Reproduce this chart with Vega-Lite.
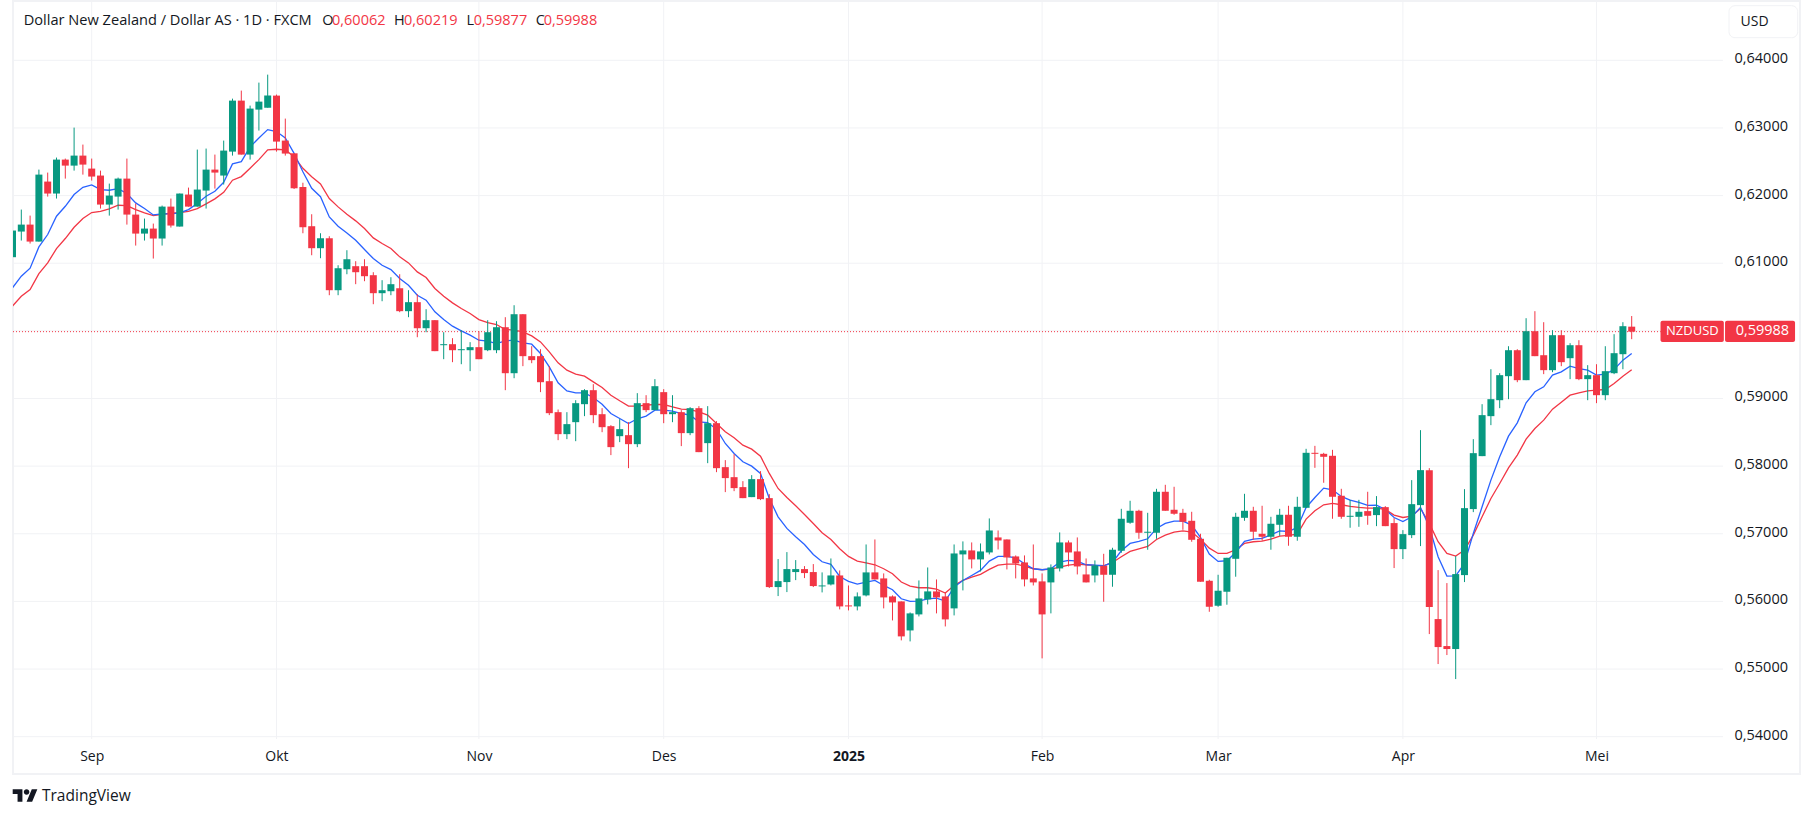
{
"$schema":"https://vega.github.io/schema/vega-lite/v6.json",
"description":"NZDUSD daily candles with two moving averages",
"width":1787,"height":773,"autosize":"none",
"padding":{"left":13,"top":1,"right":13,"bottom":44},
"background":"#ffffff",
"config":{"font":"Open Sans","view":{"stroke":"#f1f2f5","strokeWidth":2}},
"resolve":{"axis":{"x":"independent","y":"independent"}},
"datasets":{
"months":[{"bar":10,"month":"Sep"},{"bar":31,"month":"Okt"},{"bar":54,"month":"Nov"},{"bar":75,"month":"Des"},{"bar":96,"month":"2025"},{"bar":118,"month":"Feb"},{"bar":138,"month":"Mar"},{"bar":159,"month":"Apr"},{"bar":181,"month":"Mei"}],
"levels":[{"price":0.54},{"price":0.55},{"price":0.56},{"price":0.57},{"price":0.58},{"price":0.59},{"price":0.6},{"price":0.61},{"price":0.62},{"price":0.63},{"price":0.64}],
"note":[{}],
"logo":[{"bar":4.352,"price":0.53124,"label":"TradingView"}],
"candles":[
{"bar":1,"open":0.61089,"high":0.61483,"low":0.61089,"close":0.61483,"fast":0.60636,"slow":0.60365},
{"bar":2,"open":0.61468,"high":0.61793,"low":0.61335,"close":0.61571,"fast":0.60808,"slow":0.60512},
{"bar":3,"open":0.61571,"high":0.61704,"low":0.61291,"close":0.6132,"fast":0.60926,"slow":0.60611},
{"bar":4,"open":0.6132,"high":0.62384,"low":0.6132,"close":0.6231,"fast":0.61241,"slow":0.60847},
{"bar":5,"open":0.62207,"high":0.6234,"low":0.61985,"close":0.6203,"fast":0.61424,"slow":0.61005},
{"bar":6,"open":0.6203,"high":0.62562,"low":0.61956,"close":0.62532,"fast":0.61695,"slow":0.61217},
{"bar":7,"open":0.62532,"high":0.62547,"low":0.62251,"close":0.62443,"fast":0.61842,"slow":0.61365},
{"bar":8,"open":0.62443,"high":0.63005,"low":0.62369,"close":0.62591,"fast":0.62015,"slow":0.61532},
{"bar":9,"open":0.62591,"high":0.62754,"low":0.6231,"close":0.62458,"fast":0.62123,"slow":0.6166},
{"bar":10,"open":0.62399,"high":0.62547,"low":0.62222,"close":0.62281,"fast":0.62158,"slow":0.61749},
{"bar":11,"open":0.62296,"high":0.62369,"low":0.61808,"close":0.61867,"fast":0.62089,"slow":0.61768},
{"bar":12,"open":0.61867,"high":0.62177,"low":0.61704,"close":0.62,"fast":0.62079,"slow":0.61803},
{"bar":13,"open":0.61985,"high":0.62266,"low":0.61793,"close":0.62251,"fast":0.62103,"slow":0.61857},
{"bar":14,"open":0.62251,"high":0.62547,"low":0.61571,"close":0.61719,"fast":0.6203,"slow":0.61852},
{"bar":15,"open":0.61719,"high":0.61882,"low":0.61261,"close":0.61438,"fast":0.61892,"slow":0.61793},
{"bar":16,"open":0.61438,"high":0.6166,"low":0.61335,"close":0.61512,"fast":0.61808,"slow":0.61744},
{"bar":17,"open":0.61512,"high":0.61586,"low":0.61069,"close":0.61365,"fast":0.61714,"slow":0.61704},
{"bar":18,"open":0.61365,"high":0.61852,"low":0.61261,"close":0.61837,"fast":0.61729,"slow":0.61724},
{"bar":19,"open":0.61837,"high":0.61956,"low":0.61527,"close":0.61557,"fast":0.61729,"slow":0.61739},
{"bar":20,"open":0.61542,"high":0.6203,"low":0.61542,"close":0.6203,"fast":0.61744,"slow":0.61749},
{"bar":21,"open":0.62015,"high":0.62118,"low":0.61837,"close":0.61837,"fast":0.61793,"slow":0.61768},
{"bar":22,"open":0.61837,"high":0.6268,"low":0.61837,"close":0.62089,"fast":0.61882,"slow":0.61808},
{"bar":23,"open":0.62074,"high":0.62695,"low":0.61808,"close":0.62384,"fast":0.6199,"slow":0.61877},
{"bar":24,"open":0.62384,"high":0.62606,"low":0.62103,"close":0.6234,"fast":0.62064,"slow":0.61951},
{"bar":25,"open":0.62296,"high":0.62813,"low":0.62163,"close":0.62665,"fast":0.62197,"slow":0.62049},
{"bar":26,"open":0.6265,"high":0.63433,"low":0.62591,"close":0.63404,"fast":0.62468,"slow":0.62227},
{"bar":27,"open":0.63404,"high":0.63552,"low":0.62606,"close":0.62606,"fast":0.62502,"slow":0.62281},
{"bar":28,"open":0.62606,"high":0.6333,"low":0.62532,"close":0.63286,"fast":0.62719,"slow":0.62404},
{"bar":29,"open":0.63271,"high":0.6367,"low":0.62961,"close":0.63389,"fast":0.62852,"slow":0.62532},
{"bar":30,"open":0.633,"high":0.63788,"low":0.633,"close":0.63478,"fast":0.62975,"slow":0.62675},
{"bar":31,"open":0.63478,"high":0.63493,"low":0.6265,"close":0.62798,"fast":0.62946,"slow":0.62685},
{"bar":32,"open":0.62813,"high":0.63138,"low":0.62591,"close":0.62621,"fast":0.62852,"slow":0.62675},
{"bar":33,"open":0.62625,"high":0.62625,"low":0.62097,"close":0.62108,"fast":0.62625,"slow":0.62575},
{"bar":34,"open":0.62127,"high":0.6219,"low":0.61443,"close":0.61532,"fast":0.62353,"slow":0.62403},
{"bar":35,"open":0.61547,"high":0.61724,"low":0.61118,"close":0.61222,"fast":0.62108,"slow":0.62279},
{"bar":36,"open":0.61222,"high":0.61443,"low":0.61074,"close":0.61369,"fast":0.61983,"slow":0.62171},
{"bar":37,"open":0.61369,"high":0.61399,"low":0.60527,"close":0.60601,"fast":0.61685,"slow":0.61956},
{"bar":38,"open":0.60601,"high":0.6097,"low":0.60527,"close":0.60926,"fast":0.61547,"slow":0.61833},
{"bar":39,"open":0.60911,"high":0.61192,"low":0.60837,"close":0.61059,"fast":0.61448,"slow":0.61724},
{"bar":40,"open":0.60956,"high":0.6103,"low":0.6069,"close":0.60867,"fast":0.6134,"slow":0.61626},
{"bar":41,"open":0.60956,"high":0.61059,"low":0.60734,"close":0.60808,"fast":0.61202,"slow":0.61512},
{"bar":42,"open":0.60823,"high":0.60867,"low":0.60394,"close":0.60557,"fast":0.61069,"slow":0.61374},
{"bar":43,"open":0.60557,"high":0.60749,"low":0.60438,"close":0.60601,"fast":0.6097,"slow":0.61291},
{"bar":44,"open":0.60586,"high":0.60793,"low":0.60527,"close":0.6069,"fast":0.60906,"slow":0.61217},
{"bar":45,"open":0.6063,"high":0.60837,"low":0.60276,"close":0.60291,"fast":0.60773,"slow":0.61094},
{"bar":46,"open":0.60291,"high":0.60601,"low":0.60202,"close":0.60424,"fast":0.60675,"slow":0.61005},
{"bar":47,"open":0.60424,"high":0.60542,"low":0.59906,"close":0.60039,"fast":0.60527,"slow":0.60872},
{"bar":48,"open":0.60039,"high":0.6032,"low":0.5998,"close":0.60158,"fast":0.60453,"slow":0.60788},
{"bar":49,"open":0.60158,"high":0.60158,"low":0.597,"close":0.597,"fast":0.60281,"slow":0.60626},
{"bar":50,"open":0.59788,"high":0.5998,"low":0.59581,"close":0.59803,"fast":0.60167,"slow":0.60512},
{"bar":51,"open":0.59803,"high":0.59892,"low":0.59537,"close":0.59714,"fast":0.60069,"slow":0.60414},
{"bar":52,"open":0.59714,"high":0.6001,"low":0.59507,"close":0.59729,"fast":0.6,"slow":0.6033},
{"bar":53,"open":0.59714,"high":0.59833,"low":0.59404,"close":0.59759,"fast":0.59936,"slow":0.60256},
{"bar":54,"open":0.59759,"high":0.59995,"low":0.59581,"close":0.59581,"fast":0.59862,"slow":0.60167},
{"bar":55,"open":0.59714,"high":0.60158,"low":0.597,"close":0.5998,"fast":0.59847,"slow":0.60123},
{"bar":56,"open":0.59714,"high":0.60143,"low":0.5967,"close":0.60054,"fast":0.59813,"slow":0.60094},
{"bar":57,"open":0.60054,"high":0.60202,"low":0.59123,"close":0.59374,"fast":0.59852,"slow":0.6002},
{"bar":58,"open":0.59374,"high":0.60379,"low":0.593,"close":0.60246,"fast":0.59862,"slow":0.6001},
{"bar":59,"open":0.60246,"high":0.60246,"low":0.59478,"close":0.59626,"fast":0.59823,"slow":0.59985},
{"bar":60,"open":0.59626,"high":0.59773,"low":0.59522,"close":0.59567,"fast":0.59803,"slow":0.59926},
{"bar":61,"open":0.59626,"high":0.59729,"low":0.59094,"close":0.59241,"fast":0.59665,"slow":0.59837},
{"bar":62,"open":0.59256,"high":0.59478,"low":0.58754,"close":0.58783,"fast":0.59468,"slow":0.5969},
{"bar":63,"open":0.58798,"high":0.58837,"low":0.58384,"close":0.58473,"fast":0.59232,"slow":0.59527},
{"bar":64,"open":0.58473,"high":0.58798,"low":0.58399,"close":0.58621,"fast":0.59113,"slow":0.59419},
{"bar":65,"open":0.5865,"high":0.58975,"low":0.58369,"close":0.58931,"fast":0.59084,"slow":0.5936},
{"bar":66,"open":0.58916,"high":0.59138,"low":0.58739,"close":0.59123,"fast":0.59084,"slow":0.5933},
{"bar":67,"open":0.59123,"high":0.59212,"low":0.58635,"close":0.58754,"fast":0.59015,"slow":0.59246},
{"bar":68,"open":0.58768,"high":0.58857,"low":0.58502,"close":0.58576,"fast":0.58916,"slow":0.59163},
{"bar":69,"open":0.58591,"high":0.58606,"low":0.58163,"close":0.58281,"fast":0.58778,"slow":0.59049},
{"bar":70,"open":0.58443,"high":0.58695,"low":0.58355,"close":0.58547,"fast":0.58704,"slow":0.58966},
{"bar":71,"open":0.58458,"high":0.5865,"low":0.5797,"close":0.58325,"fast":0.58631,"slow":0.58887},
{"bar":72,"open":0.58325,"high":0.59079,"low":0.58281,"close":0.58931,"fast":0.587,"slow":0.58887},
{"bar":73,"open":0.58931,"high":0.59049,"low":0.58798,"close":0.58828,"fast":0.58739,"slow":0.58901},
{"bar":74,"open":0.58828,"high":0.59286,"low":0.58828,"close":0.59182,"fast":0.58828,"slow":0.58911},
{"bar":75,"open":0.59094,"high":0.59138,"low":0.58635,"close":0.58768,"fast":0.58828,"slow":0.58911},
{"bar":76,"open":0.58768,"high":0.59049,"low":0.5865,"close":0.58798,"fast":0.58813,"slow":0.58877},
{"bar":77,"open":0.58798,"high":0.58828,"low":0.58296,"close":0.58488,"fast":0.58778,"slow":0.58842},
{"bar":78,"open":0.58488,"high":0.58872,"low":0.58458,"close":0.58857,"fast":0.58754,"slow":0.58837},
{"bar":79,"open":0.58857,"high":0.58887,"low":0.58207,"close":0.58207,"fast":0.58655,"slow":0.58803},
{"bar":80,"open":0.5834,"high":0.58887,"low":0.58044,"close":0.58635,"fast":0.58645,"slow":0.58754},
{"bar":81,"open":0.58635,"high":0.58665,"low":0.57911,"close":0.5797,"fast":0.58547,"slow":0.58631},
{"bar":82,"open":0.57985,"high":0.58089,"low":0.57616,"close":0.57823,"fast":0.58335,"slow":0.58507},
{"bar":83,"open":0.57837,"high":0.58177,"low":0.5763,"close":0.57675,"fast":0.58187,"slow":0.58419},
{"bar":84,"open":0.5769,"high":0.57778,"low":0.57527,"close":0.57527,"fast":0.58064,"slow":0.5831},
{"bar":85,"open":0.57542,"high":0.57867,"low":0.57542,"close":0.57808,"fast":0.58,"slow":0.58251},
{"bar":86,"open":0.57808,"high":0.57926,"low":0.57498,"close":0.57512,"fast":0.57892,"slow":0.58148},
{"bar":87,"open":0.57527,"high":0.57586,"low":0.56198,"close":0.56212,"fast":0.57522,"slow":0.57892},
{"bar":88,"open":0.56212,"high":0.56626,"low":0.56079,"close":0.563,"fast":0.57251,"slow":0.5767},
{"bar":89,"open":0.56286,"high":0.56729,"low":0.56138,"close":0.56478,"fast":0.57079,"slow":0.57537},
{"bar":90,"open":0.56434,"high":0.56611,"low":0.56315,"close":0.56478,"fast":0.56956,"slow":0.57414},
{"bar":91,"open":0.56478,"high":0.56522,"low":0.56345,"close":0.56419,"fast":0.56842,"slow":0.57286},
{"bar":92,"open":0.56434,"high":0.56552,"low":0.56212,"close":0.56227,"fast":0.56695,"slow":0.57153},
{"bar":93,"open":0.56222,"high":0.56429,"low":0.56133,"close":0.56236,"fast":0.56586,"slow":0.57015},
{"bar":94,"open":0.56251,"high":0.56635,"low":0.56236,"close":0.56384,"fast":0.56547,"slow":0.56916},
{"bar":95,"open":0.56384,"high":0.56458,"low":0.55882,"close":0.55926,"fast":0.56369,"slow":0.56778},
{"bar":96,"open":0.55941,"high":0.56236,"low":0.55867,"close":0.55926,"fast":0.56296,"slow":0.56665},
{"bar":97,"open":0.55926,"high":0.56133,"low":0.55867,"close":0.56074,"fast":0.56256,"slow":0.56596},
{"bar":98,"open":0.56089,"high":0.56842,"low":0.56074,"close":0.56429,"fast":0.56286,"slow":0.56571},
{"bar":99,"open":0.56429,"high":0.56916,"low":0.56325,"close":0.56325,"fast":0.5631,"slow":0.56542},
{"bar":100,"open":0.5634,"high":0.56414,"low":0.55897,"close":0.56059,"fast":0.56236,"slow":0.56483},
{"bar":101,"open":0.56074,"high":0.56089,"low":0.55719,"close":0.55985,"fast":0.56172,"slow":0.56409},
{"bar":102,"open":0.56,"high":0.56,"low":0.55424,"close":0.55483,"fast":0.56039,"slow":0.56286},
{"bar":103,"open":0.55571,"high":0.55837,"low":0.55409,"close":0.55823,"fast":0.56,"slow":0.56227},
{"bar":104,"open":0.55808,"high":0.5631,"low":0.55778,"close":0.56044,"fast":0.56005,"slow":0.56202},
{"bar":105,"open":0.5603,"high":0.56502,"low":0.55956,"close":0.56148,"fast":0.56039,"slow":0.56202},
{"bar":106,"open":0.56148,"high":0.56325,"low":0.55823,"close":0.56059,"fast":0.56049,"slow":0.56182},
{"bar":107,"open":0.56074,"high":0.56133,"low":0.5563,"close":0.55734,"fast":0.56005,"slow":0.56123},
{"bar":108,"open":0.55897,"high":0.56842,"low":0.55793,"close":0.56709,"fast":0.56212,"slow":0.56236},
{"bar":109,"open":0.56695,"high":0.56887,"low":0.56163,"close":0.56754,"fast":0.5631,"slow":0.5631},
{"bar":110,"open":0.56754,"high":0.56872,"low":0.56488,"close":0.56621,"fast":0.56384,"slow":0.5636},
{"bar":111,"open":0.56621,"high":0.56857,"low":0.56443,"close":0.56739,"fast":0.56458,"slow":0.56399},
{"bar":112,"open":0.56724,"high":0.57227,"low":0.56695,"close":0.57049,"fast":0.56596,"slow":0.56473},
{"bar":113,"open":0.56946,"high":0.57049,"low":0.56768,"close":0.56901,"fast":0.56665,"slow":0.56537},
{"bar":114,"open":0.56916,"high":0.56916,"low":0.56473,"close":0.5665,"fast":0.56665,"slow":0.56552},
{"bar":115,"open":0.56665,"high":0.5668,"low":0.5634,"close":0.56562,"fast":0.56645,"slow":0.56552},
{"bar":116,"open":0.56576,"high":0.5668,"low":0.56222,"close":0.56325,"fast":0.56557,"slow":0.56522},
{"bar":117,"open":0.5634,"high":0.56842,"low":0.56236,"close":0.56281,"fast":0.56483,"slow":0.56483},
{"bar":118,"open":0.56296,"high":0.56414,"low":0.55158,"close":0.55808,"fast":0.56468,"slow":0.56468},
{"bar":119,"open":0.56281,"high":0.56547,"low":0.55823,"close":0.56502,"fast":0.56483,"slow":0.56478},
{"bar":120,"open":0.56488,"high":0.5702,"low":0.56443,"close":0.56872,"fast":0.56581,"slow":0.56507},
{"bar":121,"open":0.56872,"high":0.56901,"low":0.56517,"close":0.56724,"fast":0.56606,"slow":0.56537},
{"bar":122,"open":0.56739,"high":0.56946,"low":0.56399,"close":0.56517,"fast":0.56596,"slow":0.56552},
{"bar":123,"open":0.56399,"high":0.56635,"low":0.56281,"close":0.56281,"fast":0.56542,"slow":0.56542},
{"bar":124,"open":0.56384,"high":0.56606,"low":0.56281,"close":0.56532,"fast":0.56537,"slow":0.56532},
{"bar":125,"open":0.56527,"high":0.56704,"low":0.55995,"close":0.56394,"fast":0.56527,"slow":0.56527},
{"bar":126,"open":0.56394,"high":0.56793,"low":0.56217,"close":0.56764,"fast":0.56576,"slow":0.56576},
{"bar":127,"open":0.56749,"high":0.57369,"low":0.56719,"close":0.57222,"fast":0.56749,"slow":0.5666},
{"bar":128,"open":0.57163,"high":0.57488,"low":0.57148,"close":0.5734,"fast":0.56857,"slow":0.56739},
{"bar":129,"open":0.5734,"high":0.57355,"low":0.56926,"close":0.57015,"fast":0.56887,"slow":0.56778},
{"bar":130,"open":0.57015,"high":0.5731,"low":0.56764,"close":0.5703,"fast":0.56926,"slow":0.56813},
{"bar":131,"open":0.57015,"high":0.57665,"low":0.56926,"close":0.57621,"fast":0.57079,"slow":0.56916},
{"bar":132,"open":0.57621,"high":0.57724,"low":0.5734,"close":0.5734,"fast":0.57153,"slow":0.5698},
{"bar":133,"open":0.57355,"high":0.57695,"low":0.57281,"close":0.57296,"fast":0.57187,"slow":0.57025},
{"bar":134,"open":0.5731,"high":0.57369,"low":0.57059,"close":0.57177,"fast":0.57187,"slow":0.57044},
{"bar":135,"open":0.57192,"high":0.57325,"low":0.56882,"close":0.56911,"fast":0.57128,"slow":0.57025},
{"bar":136,"open":0.56926,"high":0.57,"low":0.56291,"close":0.56291,"fast":0.56946,"slow":0.56921},
{"bar":137,"open":0.56305,"high":0.5632,"low":0.55847,"close":0.55921,"fast":0.567,"slow":0.56788},
{"bar":138,"open":0.55936,"high":0.56394,"low":0.55921,"close":0.56158,"fast":0.56591,"slow":0.56709},
{"bar":139,"open":0.56143,"high":0.56645,"low":0.55951,"close":0.56645,"fast":0.56601,"slow":0.56709},
{"bar":140,"open":0.5663,"high":0.5731,"low":0.56365,"close":0.57251,"fast":0.56724,"slow":0.56764},
{"bar":141,"open":0.57236,"high":0.57591,"low":0.57192,"close":0.5734,"fast":0.56887,"slow":0.56857},
{"bar":142,"open":0.5734,"high":0.57399,"low":0.56911,"close":0.5703,"fast":0.56921,"slow":0.56882},
{"bar":143,"open":0.57,"high":0.57414,"low":0.56897,"close":0.56956,"fast":0.56931,"slow":0.56892},
{"bar":144,"open":0.56956,"high":0.57251,"low":0.56764,"close":0.57148,"fast":0.56985,"slow":0.56921},
{"bar":145,"open":0.57133,"high":0.57369,"low":0.5697,"close":0.57281,"fast":0.57044,"slow":0.56966},
{"bar":146,"open":0.57281,"high":0.57414,"low":0.56823,"close":0.56956,"fast":0.57034,"slow":0.56975},
{"bar":147,"open":0.56956,"high":0.57547,"low":0.56897,"close":0.57399,"fast":0.57094,"slow":0.56995},
{"bar":148,"open":0.57384,"high":0.58256,"low":0.57384,"close":0.58197,"fast":0.57389,"slow":0.57217},
{"bar":149,"open":0.58197,"high":0.583,"low":0.57975,"close":0.58182,"fast":0.57537,"slow":0.5734},
{"bar":150,"open":0.58182,"high":0.58197,"low":0.57754,"close":0.58138,"fast":0.57675,"slow":0.57429},
{"bar":151,"open":0.58153,"high":0.58241,"low":0.57222,"close":0.57547,"fast":0.5765,"slow":0.57448},
{"bar":152,"open":0.57562,"high":0.57665,"low":0.57222,"close":0.57251,"fast":0.57552,"slow":0.57429},
{"bar":153,"open":0.57251,"high":0.57502,"low":0.57089,"close":0.57266,"fast":0.57498,"slow":0.57404},
{"bar":154,"open":0.57251,"high":0.57502,"low":0.57103,"close":0.57325,"fast":0.57463,"slow":0.57389},
{"bar":155,"open":0.57335,"high":0.57621,"low":0.57133,"close":0.57266,"fast":0.57419,"slow":0.57379},
{"bar":156,"open":0.57276,"high":0.57557,"low":0.57113,"close":0.57394,"fast":0.57424,"slow":0.57379},
{"bar":157,"open":0.57394,"high":0.57409,"low":0.57113,"close":0.57113,"fast":0.5736,"slow":0.5736},
{"bar":158,"open":0.57158,"high":0.57232,"low":0.56493,"close":0.56773,"fast":0.57241,"slow":0.57276},
{"bar":159,"open":0.56773,"high":0.57054,"low":0.56626,"close":0.56995,"fast":0.57182,"slow":0.57241},
{"bar":160,"open":0.5698,"high":0.57793,"low":0.56936,"close":0.57438,"fast":0.57251,"slow":0.57261},
{"bar":161,"open":0.57424,"high":0.58532,"low":0.56818,"close":0.57941,"fast":0.57389,"slow":0.57374},
{"bar":162,"open":0.57941,"high":0.5797,"low":0.55517,"close":0.55916,"fast":0.57103,"slow":0.57153},
{"bar":163,"open":0.55739,"high":0.56463,"low":0.55074,"close":0.55325,"fast":0.5666,"slow":0.56882},
{"bar":164,"open":0.5534,"high":0.56271,"low":0.55207,"close":0.55296,"fast":0.56374,"slow":0.56709},
{"bar":165,"open":0.55296,"high":0.5667,"low":0.54852,"close":0.56404,"fast":0.56379,"slow":0.5667},
{"bar":166,"open":0.56389,"high":0.5766,"low":0.56286,"close":0.57379,"fast":0.56562,"slow":0.56759},
{"bar":167,"open":0.57365,"high":0.58399,"low":0.5732,"close":0.58192,"fast":0.57005,"slow":0.5698},
{"bar":168,"open":0.58148,"high":0.58916,"low":0.58148,"close":0.58754,"fast":0.57399,"slow":0.57251},
{"bar":169,"open":0.58739,"high":0.59433,"low":0.58606,"close":0.5899,"fast":0.57793,"slow":0.57522},
{"bar":170,"open":0.58975,"high":0.59374,"low":0.58857,"close":0.59345,"fast":0.58138,"slow":0.57744},
{"bar":171,"open":0.5933,"high":0.59773,"low":0.5899,"close":0.59714,"fast":0.58443,"slow":0.57975},
{"bar":172,"open":0.59714,"high":0.59729,"low":0.59241,"close":0.59271,"fast":0.5864,"slow":0.58163},
{"bar":173,"open":0.59271,"high":0.60187,"low":0.59271,"close":0.59995,"fast":0.58936,"slow":0.58399},
{"bar":174,"open":0.59995,"high":0.60291,"low":0.59626,"close":0.59626,"fast":0.59099,"slow":0.58557},
{"bar":175,"open":0.5964,"high":0.60128,"low":0.5936,"close":0.59419,"fast":0.59172,"slow":0.5868},
{"bar":176,"open":0.59419,"high":0.6001,"low":0.59389,"close":0.59936,"fast":0.59345,"slow":0.58842},
{"bar":177,"open":0.59936,"high":0.6001,"low":0.59478,"close":0.59537,"fast":0.59394,"slow":0.58946},
{"bar":178,"open":0.59596,"high":0.59818,"low":0.59286,"close":0.59788,"fast":0.59478,"slow":0.59049},
{"bar":179,"open":0.59788,"high":0.59862,"low":0.59271,"close":0.59286,"fast":0.59443,"slow":0.59084},
{"bar":180,"open":0.59286,"high":0.59493,"low":0.58975,"close":0.59345,"fast":0.59419,"slow":0.59113},
{"bar":181,"open":0.59345,"high":0.59507,"low":0.58931,"close":0.59049,"fast":0.59345,"slow":0.59123},
{"bar":182,"open":0.59049,"high":0.59773,"low":0.58975,"close":0.59404,"fast":0.5936,"slow":0.59133},
{"bar":183,"open":0.59374,"high":0.59951,"low":0.5936,"close":0.5967,"fast":0.59429,"slow":0.59222},
{"bar":184,"open":0.59655,"high":0.60128,"low":0.59433,"close":0.60069,"fast":0.59567,"slow":0.5933},
{"bar":185,"open":0.60062,"high":0.60219,"low":0.59877,"close":0.59988,"fast":0.59665,"slow":0.59424}
]},
"layer":[
{"data":{"name":"months"},"mark":{"type":"rule","color":"#f1f2f5","strokeWidth":1},
 "encoding":{"x":{"field":"bar","type":"quantitative","axis":null},"y":{"datum":0.53966,"type":"quantitative","axis":null},"y2":{"datum":0.648767}}},
{"data":{"name":"levels"},"mark":{"type":"rule","color":"#f1f2f5","strokeWidth":1},
 "encoding":{"y":{"field":"price","type":"quantitative","axis":null},"x":{"datum":1.057,"type":"quantitative","axis":null},"x2":{"datum":195.375}}},
{"data":{"name":"note"},"mark":{"type":"rule","color":"#f23645","strokeWidth":1,"strokeDash":[1,2]},
 "encoding":{"y":{"datum":0.59988,"type":"quantitative","axis":null},"x":{"datum":1.057,"type":"quantitative","axis":null},"x2":{"datum":188.3}}},
{"data":{"name":"candles"},"mark":{"type":"line","color":"#f23645","strokeWidth":1.3,"clip":true},
 "encoding":{"x":{"field":"bar","type":"quantitative","axis":null},"y":{"field":"slow","type":"quantitative","axis":null}}},
{"data":{"name":"candles"},"mark":{"type":"line","color":"#2962ff","strokeWidth":1.3,"clip":true},
 "encoding":{"x":{"field":"bar","type":"quantitative","axis":null},"y":{"field":"fast","type":"quantitative","axis":null}}},
{"data":{"name":"candles"},"mark":{"type":"rule","strokeWidth":1,"clip":true},
 "encoding":{"x":{"field":"bar","type":"quantitative","axis":null},"y":{"field":"low","type":"quantitative","axis":null},"y2":{"field":"high"},
  "color":{"condition":{"test":"datum.close >= datum.open","value":"#089981"},"value":"#f23645"}}},
{"data":{"name":"candles"},"mark":{"type":"bar","size":7,"orient":"vertical","clip":true},
 "encoding":{"x":{"field":"bar","type":"quantitative","axis":null},"y":{"field":"open","type":"quantitative","axis":null},"y2":{"field":"close"},
  "color":{"condition":{"test":"datum.close >= datum.open","value":"#089981"},"value":"#f23645"}}},
{"data":{"name":"note"},"mark":{"type":"rect","fill":"#ffffff","stroke":"#f1f2f5","strokeWidth":1,"cornerRadius":6},
 "encoding":{"x":{"datum":196.057,"type":"quantitative","axis":null},"x2":{"datum":203.864},"y":{"datum":0.648072,"type":"quantitative","axis":null},"y2":{"datum":0.643341}}},
{"data":{"name":"note"},"mark":{"type":"rect","fill":"#f23645","cornerRadius":2},
 "encoding":{"x":{"datum":188.273,"type":"quantitative","axis":null},"x2":{"datum":195.47},"y":{"datum":0.6015,"type":"quantitative","axis":null},"y2":{"datum":0.59835}}},
{"data":{"name":"note"},"mark":{"type":"rect","fill":"#f23645","cornerRadius":2},
 "encoding":{"x":{"datum":195.608,"type":"quantitative","axis":null},"x2":{"datum":203.562},"y":{"datum":0.6015,"type":"quantitative","axis":null},"y2":{"datum":0.59835}}},
{"data":{"name":"note"},"mark":{"type":"text","text":"USD","align":"left","baseline":"middle","fontSize":14,"color":"#131722"},
 "encoding":{"x":{"datum":197.375,"type":"quantitative","axis":null},"y":{"datum":0.645707,"type":"quantitative","axis":null}}},
{"data":{"name":"note"},"mark":{"type":"text","text":"NZDUSD","align":"left","baseline":"middle","fontSize":13,"color":"#ffffff"},
 "encoding":{"x":{"datum":188.898,"type":"quantitative","axis":null},"y":{"datum":0.59993,"type":"quantitative","axis":null}}},
{"data":{"name":"note"},"mark":{"type":"text","text":"0,59988","align":"left","baseline":"middle","fontSize":14.5,"color":"#ffffff"},
 "encoding":{"x":{"datum":196.81,"type":"quantitative","axis":null},"y":{"datum":0.59993,"type":"quantitative","axis":null}}},
{"data":{"name":"note"},"mark":{"type":"text","text":"Dollar New Zealand / Dollar AS · 1D · FXCM","align":"left","baseline":"middle","fontSize":14.6,"color":"#131722"},
 "encoding":{"x":{"datum":2.273,"type":"quantitative","axis":null},"y":{"datum":0.645855,"type":"quantitative","axis":null}}},
{"data":{"name":"note"},"mark":{"type":"text","text":"O","align":"left","baseline":"middle","fontSize":14.5,"color":"#131722"},
 "encoding":{"x":{"datum":36.205,"type":"quantitative","axis":null},"y":{"datum":0.645855,"type":"quantitative","axis":null}}},
{"data":{"name":"note"},"mark":{"type":"text","text":"0,60062","align":"left","baseline":"middle","fontSize":14.5,"color":"#f23645"},
 "encoding":{"x":{"datum":37.307,"type":"quantitative","axis":null},"y":{"datum":0.645855,"type":"quantitative","axis":null}}},
{"data":{"name":"note"},"mark":{"type":"text","text":"H","align":"left","baseline":"middle","fontSize":14.5,"color":"#131722"},
 "encoding":{"x":{"datum":44.352,"type":"quantitative","axis":null},"y":{"datum":0.645855,"type":"quantitative","axis":null}}},
{"data":{"name":"note"},"mark":{"type":"text","text":"0,60219","align":"left","baseline":"middle","fontSize":14.5,"color":"#f23645"},
 "encoding":{"x":{"datum":45.489,"type":"quantitative","axis":null},"y":{"datum":0.645855,"type":"quantitative","axis":null}}},
{"data":{"name":"note"},"mark":{"type":"text","text":"L","align":"left","baseline":"middle","fontSize":14.5,"color":"#131722"},
 "encoding":{"x":{"datum":52.602,"type":"quantitative","axis":null},"y":{"datum":0.645855,"type":"quantitative","axis":null}}},
{"data":{"name":"note"},"mark":{"type":"text","text":"0,59877","align":"left","baseline":"middle","fontSize":14.5,"color":"#f23645"},
 "encoding":{"x":{"datum":53.409,"type":"quantitative","axis":null},"y":{"datum":0.645855,"type":"quantitative","axis":null}}},
{"data":{"name":"note"},"mark":{"type":"text","text":"C","align":"left","baseline":"middle","fontSize":14.5,"color":"#131722"},
 "encoding":{"x":{"datum":60.466,"type":"quantitative","axis":null},"y":{"datum":0.645855,"type":"quantitative","axis":null}}},
{"data":{"name":"note"},"mark":{"type":"text","text":"0,59988","align":"left","baseline":"middle","fontSize":14.5,"color":"#f23645"},
 "encoding":{"x":{"datum":61.364,"type":"quantitative","axis":null},"y":{"datum":0.645855,"type":"quantitative","axis":null}}},
{"data":{"name":"note"},"mark":{"type":"point","filled":true,"opacity":1,"color":"#131722","size":625,"shape":"M-0.222 0.5H-0.611V-0.111H-1V-0.5H-0.222ZM0.556 0.5H0.111L0.528 -0.5H0.972ZM-0.111 -0.278a0.222 0.222 0 1 0 0.444 0a0.222 0.222 0 1 0 -0.444 0Z"},
 "encoding":{"x":{"datum":2.443,"type":"quantitative","axis":null},"y":{"datum":0.53131,"type":"quantitative","axis":null}}},
{"data":{"name":"logo"},"mark":{"type":"text","align":"left","baseline":"middle","fontSize":15.5,"color":"#131722"},
 "encoding":{"text":{"field":"label"},
  "x":{"field":"bar","type":"quantitative","title":null,"scale":{"domain":[1.057,204.125],"nice":false,"zero":false,"padding":0},
   "axis":{"values":[10,31,54,75,96,118,138,159,181],"orient":"bottom","grid":false,"domain":false,"ticks":false,"labelPadding":-18,"labelBaseline":"middle","labelFontSize":14,"labelColor":"#131722","labelFont":"Open Sans","labelFlush":false,"labelOverlap":false,
    "labelExpr":"{'10':'Sep','31':'Okt','54':'Nov','75':'Des','96':'2025','118':'Feb','138':'Mar','159':'Apr','181':'Mei'}[datum.value]",
    "labelFontWeight":{"condition":{"test":"datum.value == 96","value":"bold"},"value":"normal"}}},
  "y":{"field":"price","type":"quantitative","title":null,"scale":{"domain":[0.534485,0.648767],"nice":false,"zero":false},
   "axis":{"values":[0.54,0.55,0.56,0.57,0.58,0.59,0.61,0.62,0.63,0.64],"orient":"right","grid":false,"domain":false,"ticks":false,"labelAlign":"left","labelPadding":-66,"labelOffset":-1.5,"labelBaseline":"middle","labelFontSize":14.5,"labelColor":"#131722","labelFont":"Open Sans","labelFlush":false,"labelOverlap":false,
    "labelExpr":"replace(format(datum.value,'.5f'),'.',',')"}}}}
]
}
